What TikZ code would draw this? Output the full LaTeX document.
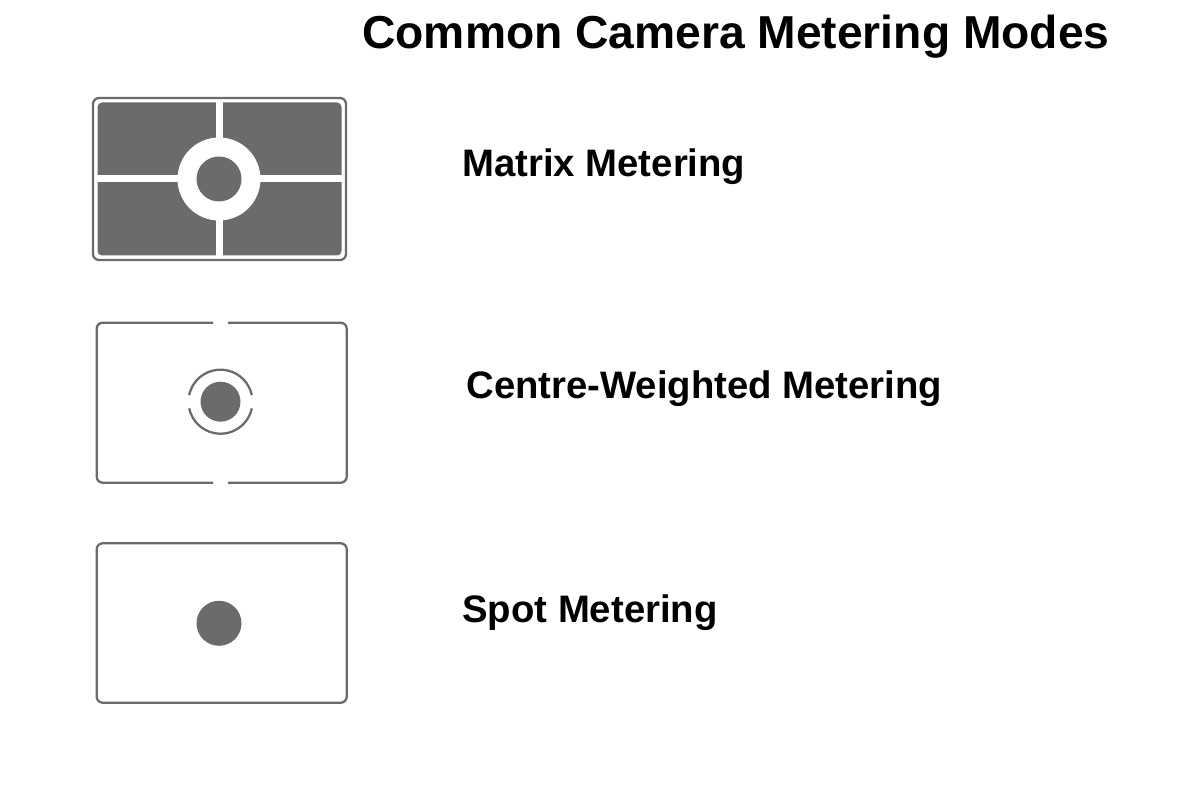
\documentclass[tikz,border=0pt]{standalone}
\usepackage{fontspec}
\setmainfont{Liberation Sans}
\usetikzlibrary{positioning}
\definecolor{metergray}{HTML}{6B6B6B}
\tikzset{
  frame/.style={draw=metergray, line width=1.3pt, rounded corners=3.4pt},
  label/.style={anchor=base west, inner sep=0pt, font=\fontsize{21.8}{25}\selectfont\bfseries},
}
\begin{document}
\begin{tikzpicture}[x=0.02cm, y=-0.02cm]
\useasboundingbox (0,0) rectangle (1200,797);
% Titel
\node[anchor=base west, inner sep=0pt, font=\fontsize{26.3}{30}\selectfont\bfseries] (title) at (362,49) {Common Camera Metering Modes};

% Matrix
\begin{scope}[local bounding box=matrix]
	% Rahmen und Felder
	\draw[frame] (93,98) rectangle (346,260);
	\fill[metergray, rounded corners=2.5pt] (97.5,102.5) rectangle (341.5,255.5);
	% Trennlinien
	\fill[white] (215.5,102) rectangle (222.5,256);
	\fill[white] (97,175.5) rectangle (342,182.5);
	% Ring und Mitte
	\fill[white] (219,179) circle[radius=41.5];
	\fill[metergray] (219,179) circle[radius=22.5];
\end{scope}
\node[label] (matrixlabel) at (462,177) {Matrix Metering};

% Centre-Weighted
\begin{scope}[local bounding box=centre]
	% Rahmen mit Luecken
	\draw[frame] (213,322.7) -- (96.7,322.7) -- (96.7,482.7) -- (213,482.7);
	\draw[frame] (228,482.7) -- (346.7,482.7) -- (346.7,322.7) -- (228,322.7);
	% Kreisboegen
	\draw[metergray, line width=1.3pt] (220.5,401.7) ++(12:32) arc[start angle=12, end angle=168, radius=32];
	\draw[metergray, line width=1.3pt] (220.5,401.7) ++(192:32) arc[start angle=192, end angle=348, radius=32];
	\fill[metergray] (220.5,401.7) circle[radius=20];
\end{scope}
\node[label] (centrelabel) at (466,398) {Centre-Weighted Metering};

% Spot
\begin{scope}[local bounding box=spot]
	\draw[frame] (96.7,543.3) rectangle (346.7,702.7);
	\fill[metergray] (219,623.3) circle[radius=22.5];
\end{scope}
\node[label] (spotlabel) at (462,622.5) {Spot Metering};
\end{tikzpicture}
\end{document}
